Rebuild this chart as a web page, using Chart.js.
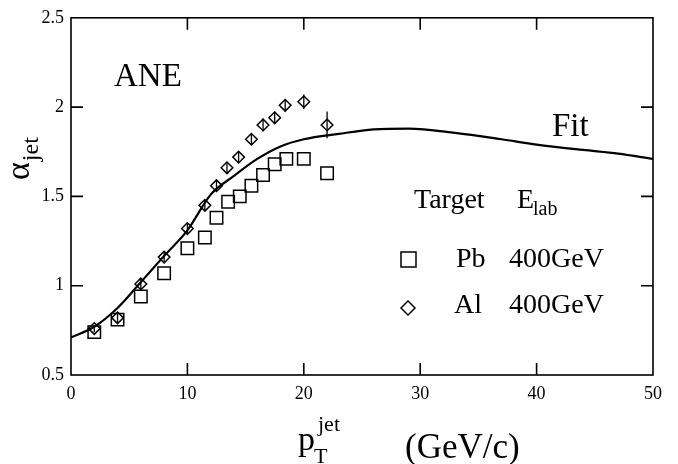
<!DOCTYPE html>
<html><head><meta charset="utf-8">
<script src="https://cdn.jsdelivr.net/npm/chart.js@4/dist/chart.umd.min.js"></script>
<style>html,body{margin:0;padding:0;background:#fff}#wrap{width:678px;height:464px}</style>
</head><body><div id="wrap"><canvas id="c" width="678" height="464"></canvas></div>
<script>
// ---- data ----
const ptPb    = [2, 4, 6, 8, 10, 11.5, 12.5, 13.5, 14.5, 15.5, 16.5, 17.5, 18.5, 20, 22];
const alphaPb = [0.74, 0.81, 0.94, 1.07, 1.21, 1.27, 1.38, 1.47, 1.50, 1.56, 1.62, 1.68, 1.71, 1.71, 1.63];
const ptAl    = [2, 4, 6, 8, 10, 11.5, 12.5, 13.4, 14.4, 15.5, 16.5, 17.5, 18.4, 20, 22];
const alphaAl = [0.76, 0.82, 1.01, 1.16, 1.32, 1.45, 1.56, 1.66, 1.72, 1.82, 1.90, 1.94, 2.01, 2.03, 1.90];
const errAl   = [0.02, 0.03, 0.03, 0.03, 0.03, 0.03, 0.03, 0.03, 0.03, 0.03, 0.035, 0.035, 0.035, 0.04, 0.075];
const fitPt    = [0, 2, 4, 6, 8, 10, 12, 14, 16, 18, 20, 23, 26, 29, 33, 37, 40, 44, 47, 50];
const fitAlpha = [0.71, 0.77, 0.875, 1.02, 1.167, 1.31, 1.51, 1.615, 1.71, 1.78, 1.82, 1.85, 1.875, 1.88, 1.856, 1.82, 1.79, 1.76, 1.74, 1.71];
const xTickVals = [0, 10, 20, 30, 40, 50];
const xTickLabels = ['0', '10', '20', '30', '40', '50'];
const yTickVals = [0.5, 1, 1.5, 2, 2.5];
const yTickLabels = ['0.5', '1', '1.5', '2', '2.5'];
const seriesLabels = ['Pb', 'Al'];
const energyLabels = ['400GeV', '400GeV'];

const SERIF = '"Liberation Serif", "DejaVu Serif", serif';
const toPts = (xs, ys) => xs.map((x, i) => ({x: x, y: ys[i]}));

const decor = {
  id: 'decor',
  afterDatasetsDraw(chart) {
    const ctx = chart.ctx, a = chart.chartArea;
    const xs = chart.scales.x, ys = chart.scales.y;
    ctx.save();
    ctx.strokeStyle = '#000';
    // error bars on Al points
    ctx.lineWidth = 1.3;
    ptAl.forEach((p, i) => {
      const px = xs.getPixelForValue(p);
      ctx.beginPath();
      ctx.moveTo(px, ys.getPixelForValue(alphaAl[i] - errAl[i]));
      ctx.lineTo(px, ys.getPixelForValue(alphaAl[i] + errAl[i]));
      ctx.stroke();
    });
    // frame
    ctx.lineWidth = 1.6;
    ctx.strokeRect(a.left, a.top, a.right - a.left, a.bottom - a.top);
    // inward ticks
    const TL = 12;
    ctx.beginPath();
    xTickVals.forEach(v => {
      if (v === xs.min || v === xs.max) return;
      const px = xs.getPixelForValue(v);
      ctx.moveTo(px, a.bottom); ctx.lineTo(px, a.bottom - TL);
      ctx.moveTo(px, a.top); ctx.lineTo(px, a.top + TL);
    });
    yTickVals.forEach(v => {
      if (v === ys.min || v === ys.max) return;
      const py = ys.getPixelForValue(v);
      ctx.moveTo(a.left, py); ctx.lineTo(a.left + TL, py);
      ctx.moveTo(a.right, py); ctx.lineTo(a.right - TL, py);
    });
    ctx.stroke();

    // texts
    ctx.fillStyle = '#000';
    ctx.textBaseline = 'alphabetic';
    ctx.textAlign = 'left';
    ctx.font = '33px ' + SERIF;
    ctx.fillText('ANE', 114, 86);
    ctx.font = '33px ' + SERIF;
    ctx.fillText('Fit', 552, 136);
    ctx.font = '28px ' + SERIF;
    ctx.fillText('Target', 414, 208);
    ctx.fillText('E', 517, 208);
    ctx.font = '20px ' + SERIF;
    ctx.fillText('lab', 533, 215);
    ctx.font = '28px ' + SERIF;
    ctx.fillText(seriesLabels[0], 456, 267);
    ctx.fillText(energyLabels[0], 509, 267);
    ctx.fillText(seriesLabels[1], 454, 313);
    ctx.fillText(energyLabels[1], 509, 313);
    // legend symbols
    ctx.lineWidth = 1.5;
    ctx.strokeRect(401, 252, 15, 15);
    ctx.beginPath();
    ctx.moveTo(408, 301); ctx.lineTo(415, 308); ctx.lineTo(408, 315); ctx.lineTo(401, 308); ctx.closePath();
    ctx.stroke();

    // x title
    ctx.font = '34px ' + SERIF;
    ctx.fillText('p', 298, 450);
    ctx.font = '22px ' + SERIF;
    ctx.fillText('jet', 318, 431);
    ctx.fillText('T', 314, 463);
    ctx.font = '35px ' + SERIF;
    ctx.fillText('(GeV/c)', 405, 458);

    // y title (rotated)
    ctx.save();
    ctx.translate(29, 180);
    ctx.rotate(-Math.PI / 2);
    ctx.font = '34px ' + SERIF;
    ctx.fillText('\u03b1', 0, 0);
    const w = ctx.measureText('\u03b1').width;
    ctx.font = '24px ' + SERIF;
    ctx.fillText('jet', w + 1, 9);
    ctx.restore();
    ctx.restore();
  }
};

new Chart(document.getElementById('c'), {
  type: 'scatter',
  data: {
    datasets: [
      {
        label: 'Fit', data: toPts(fitPt, fitAlpha), showLine: true,
        borderColor: '#000', borderWidth: 2.2, pointRadius: 0, fill: false,
        cubicInterpolationMode: 'monotone', order: 3
      },
      {
        label: 'Pb 400GeV', data: toPts(ptPb, alphaPb),
        pointStyle: 'rect', pointRadius: 8.8, pointBorderWidth: 1.5,
        pointBorderColor: '#000', pointBackgroundColor: 'rgba(0,0,0,0)', showLine: false, order: 2
      },
      {
        label: 'Al 400GeV', data: toPts(ptAl, alphaAl),
        pointStyle: 'rectRot', pointRadius: 5.8, pointBorderWidth: 1.5,
        pointBorderColor: '#000', pointBackgroundColor: 'rgba(0,0,0,0)', showLine: false, order: 1
      }
    ]
  },
  options: {
    responsive: false, animation: false, devicePixelRatio: 1,
    layout: {padding: {top: 15, right: 25, left: 0, bottom: 0}},
    plugins: {legend: {display: false}, tooltip: {enabled: false}},
    scales: {
      x: {
        type: 'linear', min: 0, max: 50,
        afterFit(s) { s.height = 89; },
        afterBuildTicks(s) { s.ticks = xTickVals.map(v => ({value: v})); },
        grid: {display: false, drawTicks: false}, border: {display: false},
        ticks: {padding: 8, color: '#000', maxRotation: 0, autoSkip: false,
          font: {family: SERIF, size: 18},
          callback: (v) => { const i = xTickVals.indexOf(v); return i >= 0 ? xTickLabels[i] : ''; }}
      },
      y: {
        type: 'linear', min: 0.5, max: 2.5,
        afterFit(s) { s.width = 71; },
        afterBuildTicks(s) { s.ticks = yTickVals.map(v => ({value: v})); },
        grid: {display: false, drawTicks: false}, border: {display: false},
        ticks: {padding: 7, color: '#000', autoSkip: false,
          font: {family: SERIF, size: 18},
          callback: (v) => { const i = yTickVals.indexOf(v); return i >= 0 ? yTickLabels[i] : ''; }}
      }
    }
  },
  plugins: [decor]
});
</script>
</body></html>
